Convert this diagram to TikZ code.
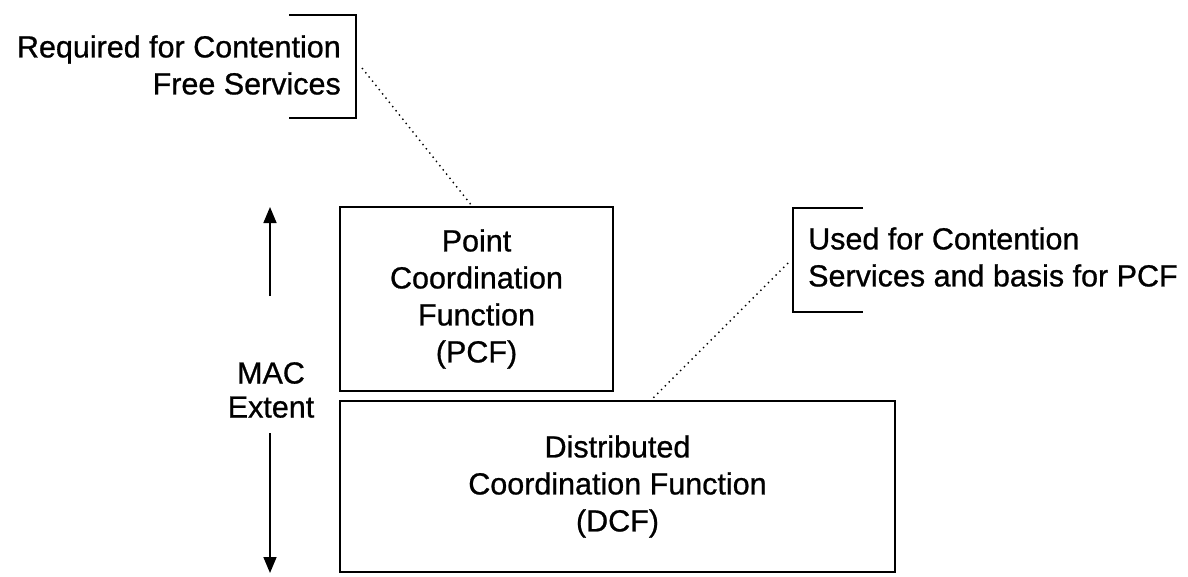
\documentclass[tikz,border=0pt]{standalone}
\usepackage{fontspec}
\setmainfont{Liberation Sans}[FakeBold=0.8]
\usetikzlibrary{arrows.meta,calc}
\begin{document}
\begin{tikzpicture}[x=1pt,y=-1pt,
  every node/.style={inner sep=0pt, font=\fontsize{30.5}{37}\selectfont},
  boxnode/.style={draw, line width=1.8pt, align=center},
  bracketline/.style={line width=1.6pt},
  leader/.style={line width=1.4pt, dash pattern=on 1.4pt off 4pt},
  extentarrow/.style={line width=1.6pt, -{Triangle[length=16pt,width=13pt]}}
]
\useasboundingbox[fill=white] (0,0) rectangle (1188,576);

% boxes
\node[boxnode, minimum width=273pt, minimum height=184pt] (pcf) at (476.5,299)
  {Point\\Coordination\\Function\\(PCF)};
\node[boxnode, minimum width=555pt, minimum height=171pt] (dcf) at (617.5,486.5)
  {Distributed\\Coordination Function\\(DCF)};

% MAC extent
\node[align=center, font=\fontsize{30.5}{34}\selectfont] (mac) at (271,390) {MAC\\Extent};
\coordinate (upstart) at (270,296);
\coordinate (uptip) at (270,207);
\coordinate (downstart) at (270,433);
\coordinate (downtip) at (270,573);
\draw[extentarrow] (upstart) -- (uptip);
\draw[extentarrow] (downstart) -- (downtip);

% left label with bracket
\node[align=right, anchor=east] (reqlabel) at (341,65) {Required for Contention\\Free Services};
\coordinate (lb1) at (289,15);
\coordinate (lb2) at (356,15);
\coordinate (lb3) at (356,118);
\coordinate (lb4) at (289,118);
\draw[bracketline] (lb1) -- (lb2) -- (lb3) -- (lb4);
\coordinate (l1a) at (362,68);
\coordinate (l1b) at ($(pcf.north west)+(133,0)$);
\draw[leader] (l1a) -- (l1b);

% right label with bracket
\node[align=left, anchor=west] (uselabel) at (808,257) {Used for Contention\\Services and basis for PCF};
\coordinate (rb1) at (863,208);
\coordinate (rb2) at (793,208);
\coordinate (rb3) at (793,312);
\coordinate (rb4) at (863,312);
\draw[bracketline] (rb1) -- (rb2) -- (rb3) -- (rb4);
\coordinate (l2a) at (788,263);
\coordinate (l2b) at ($(dcf.north west)+(312,0)$);
\draw[leader] (l2a) -- (l2b);
\end{tikzpicture}
\end{document}
